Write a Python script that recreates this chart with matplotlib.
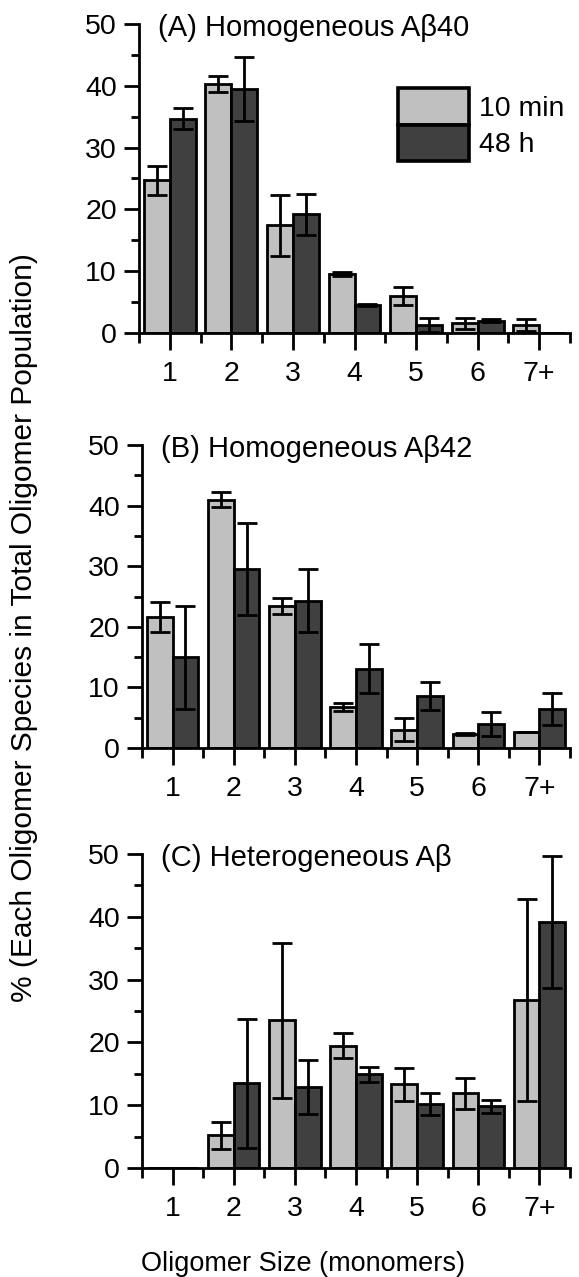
import numpy as np
import matplotlib
matplotlib.use('Agg')
import matplotlib.pyplot as plt
from matplotlib.ticker import MultipleLocator

plt.rcParams['font.family'] = ['Liberation Sans', 'DejaVu Sans']

sizes = ['1', '2', '3', '4', '5', '6', '7+']

# (A) homogeneous Abeta40
a40_10min = [24.7, 40.3, 17.4, 9.5, 6.0, 1.6, 1.3]
a40_10min_err = [2.3, 1.3, 5.0, 0.3, 1.4, 0.9, 1.0]
a40_48h = [34.7, 39.5, 19.2, 4.5, 1.3, 2.0, 0.0]
a40_48h_err = [1.7, 5.2, 3.3, 0.2, 1.1, 0.3, 0.0]

# (B) homogeneous Abeta42
a42_10min = [21.6, 41.0, 23.4, 6.8, 3.0, 2.3, 2.6]
a42_10min_err = [2.5, 1.2, 1.3, 0.7, 1.9, 0.2, 0.0]
a42_48h = [15.0, 29.6, 24.3, 13.1, 8.6, 3.9, 6.4]
a42_48h_err = [8.5, 7.6, 5.2, 4.0, 2.3, 2.0, 2.6]

# (C) heterogeneous Abeta
het_10min = [0.0, 5.2, 23.5, 19.5, 13.3, 11.9, 26.8]
het_10min_err = [0.0, 2.1, 12.3, 2.0, 2.6, 2.5, 16.1]
het_48h = [0.0, 13.5, 12.9, 14.9, 10.2, 9.8, 39.2]
het_48h_err = [0.0, 10.3, 4.3, 1.2, 1.7, 1.1, 10.5]

panels = [
    ('(A) Homogeneous Aβ40', a40_10min, a40_10min_err, a40_48h, a40_48h_err),
    ('(B) Homogeneous Aβ42', a42_10min, a42_10min_err, a42_48h, a42_48h_err),
    ('(C) Heterogeneous Aβ', het_10min, het_10min_err, het_48h, het_48h_err),
]

W, H = 579, 1277
# axes boxes in pixels: left, right, y of 0, y of 50
boxes = [(139, 570, 333, 24), (142, 570, 748, 445), (142, 570, 1168, 854)]

light = '#c0c0c0'
dark = '#404040'
fs = 20.5
lw = 2.0
bw = 0.42

fig = plt.figure(figsize=(W / 100, H / 100), dpi=100)

x = np.arange(1, len(sizes) + 1)
for (title, v1, e1, v2, e2), (l, r, y0, y50) in zip(panels, boxes):
    ax = fig.add_axes([l / W, 1 - y0 / H, (r - l) / W, (y0 - y50) / H])
    b1 = ax.bar(x - bw / 2, v1, bw, color=light, edgecolor='black',
                linewidth=lw, label='10 min', zorder=2)
    b2 = ax.bar(x + bw / 2, v2, bw, color=dark, edgecolor='black',
                linewidth=lw, label='48 h', zorder=2)
    ax.errorbar(x - bw / 2, v1, yerr=e1, fmt='none', ecolor='black',
                elinewidth=lw, capsize=7.5, capthick=lw, zorder=3)
    ax.errorbar(x + bw / 2, v2, yerr=e2, fmt='none', ecolor='black',
                elinewidth=lw, capsize=7.5, capthick=lw, zorder=3)

    ax.set_xlim(0.5, 7.5)
    ax.set_ylim(0, 50)
    for s in ['top', 'right']:
        ax.spines[s].set_visible(False)
    for s in ['left', 'bottom']:
        ax.spines[s].set_linewidth(lw)

    ax.set_xticks(x)
    ax.set_xticklabels(sizes)
    ax.xaxis.set_minor_locator(MultipleLocator(1, offset=0.5))
    ax.yaxis.set_major_locator(MultipleLocator(10))
    ax.yaxis.set_minor_locator(MultipleLocator(5))
    ax.tick_params(axis='x', which='major', direction='out', length=12,
                   width=lw, pad=8, labelsize=fs)
    ax.tick_params(axis='x', which='minor', direction='out', length=7,
                   width=lw)
    ax.tick_params(axis='y', which='major', direction='out', length=11,
                   width=lw, pad=5, labelsize=fs)
    ax.tick_params(axis='y', which='minor', direction='out', length=6,
                   width=lw)

    ax.text(0.81, 49.3, title, fontsize=21, ha='left', va='center')

    if title.startswith('(A)'):
        leg = ax.legend(handles=[b1, b2], loc='upper left',
                        bbox_to_anchor=(0.601, 0.793), frameon=False,
                        borderpad=0, borderaxespad=0, handlelength=2.5,
                        handleheight=1.6, labelspacing=0,
                        handletextpad=0.35, fontsize=fs)
        for p in leg.get_patches():
            p.set_linewidth(2.6)

fig.text(24 / W, 1 - 628 / H,
         '% (Each Oligomer Species in Total Oligomer Population)',
         rotation=90, ha='center', va='center', fontsize=21.5)
fig.text(303 / W, 1 - 1271 / H, 'Oligomer Size (monomers)',
         ha='center', va='baseline', fontsize=19.5)

fig.savefig('out.png', dpi=100)
